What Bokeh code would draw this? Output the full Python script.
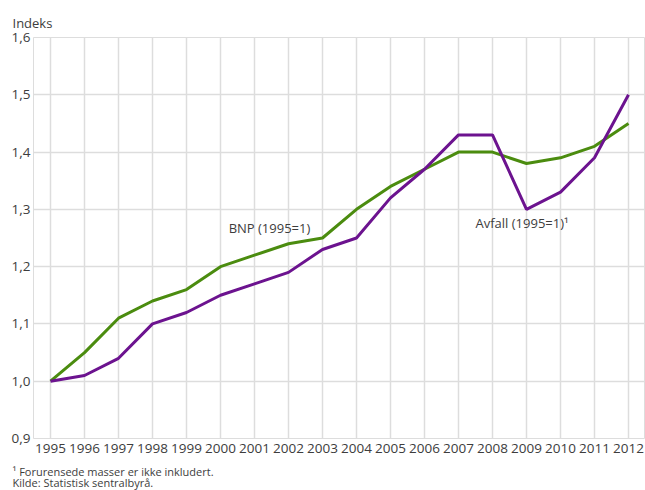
from bokeh.plotting import figure
from bokeh.models import Range1d, Label, FixedTicker, Title
from bokeh.embed import file_html
from bokeh.resources import INLINE

years = list(range(1995, 2013))
bnp = [1.00, 1.05, 1.11, 1.14, 1.16, 1.20, 1.22, 1.24, 1.25, 1.30, 1.34, 1.37, 1.40, 1.40, 1.38, 1.39, 1.41, 1.45]
avfall = [1.00, 1.01, 1.04, 1.10, 1.12, 1.15, 1.17, 1.19, 1.23, 1.25, 1.32, 1.37, 1.43, 1.43, 1.30, 1.33, 1.39, 1.50]
y_ticks = [0.9, 1.0, 1.1, 1.2, 1.3, 1.4, 1.5, 1.6]
y_tick_labels = {0.9: "0,9", 1.0: "1,0", 1.1: "1,1", 1.2: "1,2", 1.3: "1,3", 1.4: "1,4", 1.5: "1,5", 1.6: "1,6"}
y_title = "Indeks"
bnp_label = "BNP (1995=1)"
avfall_label = "Avfall (1995=1)\u00b9"
footnote = "\u00b9 Forurensede masser er ikke inkludert."
source_note = "Kilde: Statistisk sentralbyr\u00e5."

GREEN = "#4b8c0f"
PURPLE = "#6c138f"
TXT = "#3d3d3d"
GRID = "#dddddd"
FONT = "Open Sans"

p = figure(frame_width=612, frame_height=401, output_backend="svg", toolbar_location=None,
           x_range=Range1d(1994.5, 2012.5), y_range=Range1d(0.9, 1.6),
           min_border_left=33, min_border_right=0, min_border_top=37, min_border_bottom=0)

p.outline_line_color = GRID
p.background_fill_color = "white"
p.border_fill_color = "white"

for ax in (p.xaxis[0], p.yaxis[0]):
    ax.axis_line_color = None
    ax.major_tick_line_color = None
    ax.minor_tick_line_color = None
    ax.major_tick_out = 0
    ax.major_tick_in = 0
    ax.major_label_text_font = FONT
    ax.major_label_text_font_size = "13.5px"
    ax.major_label_text_color = TXT

p.xaxis.ticker = FixedTicker(ticks=years)
p.xaxis.major_label_standoff = 5
p.yaxis.ticker = FixedTicker(ticks=y_ticks)
p.yaxis.major_label_overrides = y_tick_labels
p.yaxis.major_label_standoff = 3

p.xgrid.ticker = FixedTicker(ticks=years)
p.ygrid.ticker = FixedTicker(ticks=y_ticks)
p.xgrid.grid_line_color = GRID
p.ygrid.grid_line_color = GRID
p.xgrid.grid_line_width = 1.5
p.ygrid.grid_line_width = 1.5

p.line(years, bnp, line_color=GREEN, line_width=3)
p.line(years, avfall, line_color=PURPLE, line_width=3)

p.add_layout(Label(x=2001.44, y=1.267, text=bnp_label, text_align="center", text_baseline="middle",
                   text_font=FONT, text_font_size="13px", text_color=TXT))
p.add_layout(Label(x=2007.5, y=1.277, text=avfall_label, text_align="left", text_baseline="middle",
                   text_font=FONT, text_font_size="13px", text_color=TXT))

p.add_layout(Title(text=y_title, align="left", offset=-21, standoff=11.5,
                   text_font=FONT, text_font_size="13px", text_font_style="normal", text_color=TXT), "above")
p.add_layout(Title(text=footnote + "\n" + source_note, align="left", offset=-21, standoff=14,
                   text_font=FONT, text_font_size="11px", text_font_style="normal", text_color=TXT,
                   text_line_height=0.76), "below")

open("out.html", "w").write(file_html(p, INLINE))
